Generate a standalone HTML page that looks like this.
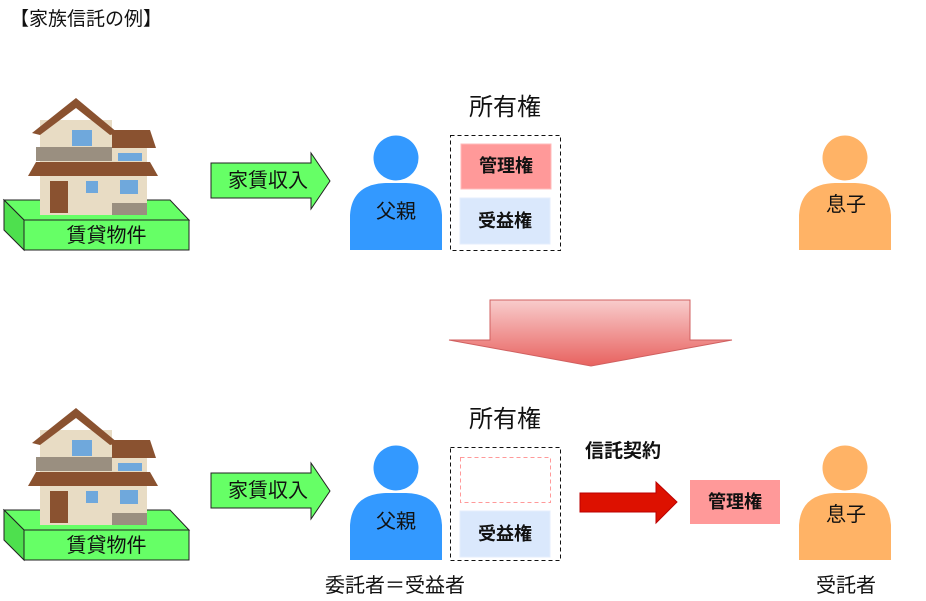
<!DOCTYPE html>
<html><head><meta charset="utf-8"><style>
body{margin:0;width:926px;height:601px;background:#fff;position:relative;overflow:hidden;font-family:"Liberation Sans","Noto Sans CJK JP",sans-serif;}
.t{position:absolute;white-space:nowrap;color:#111;line-height:1;}
</style></head><body>
<svg width="926" height="601" style="position:absolute;left:0;top:0" xmlns="http://www.w3.org/2000/svg">
<defs>
<linearGradient id="g" x1="0" y1="0" x2="0" y2="1"><stop offset="0" stop-color="#f8cccc"/><stop offset="1" stop-color="#e8625f"/></linearGradient>
<g id="house">
  <polygon points="4,200 170,200 189,220 24,220" fill="#66ff66" stroke="#222" stroke-width="1"/>
  <polygon points="4,200 24,220 24,250 4,230" fill="#4ee04e" stroke="#222" stroke-width="1"/>
  <rect x="24" y="220" width="165" height="30" fill="#66ff66" stroke="#222" stroke-width="1"/>
  <rect x="40" y="120" width="72" height="95" fill="#e8dcc4"/>
  <rect x="112" y="148" width="35" height="67" fill="#e8dcc4"/>
  <polygon points="32,133 76,98 118,133 110,135 76,108 40,135" fill="#8a5230"/>
  <rect x="72" y="130" width="20" height="16" fill="#6fa8dc"/>
  <rect x="36" y="147" width="76" height="14" fill="#9a8f80"/>
  <polygon points="112,130 150,130 156,148 112,148" fill="#8a5230"/>
  <rect x="118" y="153" width="24" height="8" fill="#6fa8dc"/>
  <polygon points="36,162 150,162 158,176 28,176" fill="#8a5230"/>
  <rect x="50" y="181" width="18" height="32" fill="#8a5230"/>
  <rect x="86" y="181" width="12" height="12" fill="#6fa8dc"/>
  <rect x="120" y="180" width="18" height="14" fill="#6fa8dc"/>
  <rect x="112" y="203" width="35" height="12" fill="#9a8f80"/>
</g>
<g id="arr"><polygon points="211,163 311,163 311,153 330,181 311,209 311,198 211,198" fill="#66ff66" stroke="#222" stroke-width="1"/></g>
<g id="person"><circle cx="0" cy="158" r="22.5"/><path d="M-46,250 L-46,215 Q-44,184 -10,183 L10,183 Q44,184 46,215 L46,250 Z"/></g>
</defs>
<use href="#house"/>
<use href="#house" transform="translate(0,310)"/>
<use href="#arr"/>
<use href="#arr" transform="translate(0,310)"/>
<use href="#person" transform="translate(396,0)" fill="#3399ff"/>
<use href="#person" transform="translate(396,310)" fill="#3399ff"/>
<use href="#person" transform="translate(845,0)" fill="#ffb366"/>
<use href="#person" transform="translate(845,310)" fill="#ffb366"/>
<rect x="450.5" y="135.5" width="110" height="115" fill="none" stroke="#111" stroke-dasharray="4,3"/>
<rect x="461" y="144" width="90" height="45" fill="#ff9999" stroke="#ffbbbb"/>
<rect x="460" y="198" width="90" height="46" fill="#dae8fc" stroke="#e4eefc"/>
<rect x="450.5" y="447.5" width="110" height="113" fill="none" stroke="#111" stroke-dasharray="4,3"/>
<rect x="460.5" y="457.5" width="90" height="45" fill="none" stroke="#ff9999" stroke-dasharray="4,3"/>
<rect x="460" y="511" width="90" height="46" fill="#dae8fc" stroke="#e4eefc"/>
<polygon points="490,300 690,300 690,340 732,340 591,366 449,340 490,340" fill="url(#g)" stroke="#d06060" stroke-width="1"/>
<polygon points="580,493 656,493 656,482 677,502 656,523 656,512 580,512" fill="#dd1100" stroke="#b00" stroke-width="1"/>
<rect x="690" y="480" width="90" height="44" fill="#ff9999"/>
</svg>
<div class="t" style="left:10px;top:10px;font-size:19px">【家族信託の例】</div>
<div class="t" style="left:24px;top:226px;width:165px;text-align:center;font-size:20px">賃貸物件</div>
<div class="t" style="left:24px;top:536px;width:165px;text-align:center;font-size:20px">賃貸物件</div>
<div class="t" style="left:211px;top:171px;width:114px;text-align:center;font-size:20px">家賃収入</div>
<div class="t" style="left:211px;top:481px;width:114px;text-align:center;font-size:20px">家賃収入</div>
<div class="t" style="left:350px;top:202px;width:92px;text-align:center;font-size:20px">父親</div>
<div class="t" style="left:350px;top:512px;width:92px;text-align:center;font-size:20px">父親</div>
<div class="t" style="left:800px;top:195px;width:92px;text-align:center;font-size:20px">息子</div>
<div class="t" style="left:800px;top:505px;width:92px;text-align:center;font-size:20px">息子</div>
<div class="t" style="left:450px;top:96px;width:110px;text-align:center;font-size:24px">所有権</div>
<div class="t" style="left:450px;top:408px;width:110px;text-align:center;font-size:24px">所有権</div>
<div class="t" style="left:461px;top:157px;width:90px;text-align:center;font-size:18px;font-weight:bold">管理権</div>
<div class="t" style="left:460px;top:212px;width:90px;text-align:center;font-size:18px;font-weight:bold">受益権</div>
<div class="t" style="left:460px;top:525px;width:90px;text-align:center;font-size:18px;font-weight:bold">受益権</div>
<div class="t" style="left:690px;top:493px;width:90px;text-align:center;font-size:18px;font-weight:bold">管理権</div>
<div class="t" style="left:585px;top:442px;font-size:19px;font-weight:bold">信託契約</div>
<div class="t" style="left:320px;top:576px;width:150px;text-align:center;font-size:20px">委託者＝受益者</div>
<div class="t" style="left:790px;top:576px;width:112px;text-align:center;font-size:20px">受託者</div>
</body></html>
